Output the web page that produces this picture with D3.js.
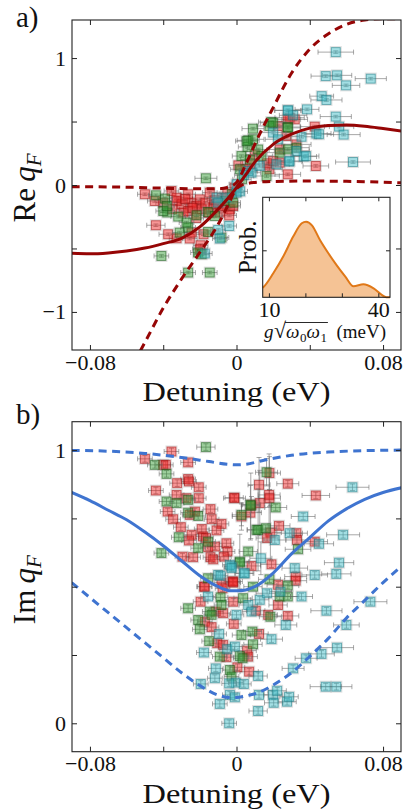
<!DOCTYPE html>
<html><head><meta charset="utf-8">
<script src="https://cdn.jsdelivr.net/npm/d3@7"></script>
<style>
body{margin:0;background:#fff}
svg{display:block}
text{font-family:"Liberation Serif","Times New Roman",serif;fill:#111}
</style></head>
<body><svg id="c" width="404" height="811"></svg>
<script>
// ---------- DATA ----------
const xTicks = [-0.08, -0.04, 0, 0.04, 0.08];
const xTickLabels = ["\u22120.08", "", "0", "", "0.08"];
const reTicks = [-1, -0.5, 0, 0.5, 1];
const reTickLabels = ["\u22121", "", "0", "", "1"];
const imTicks = [0, 0.25, 0.5, 0.75, 1];
const imTickLabels = ["0", "", "", "", "1"];
const insetXTicks = [10, 20, 30, 40];
const insetXTickLabels = ["10", "", "", "40"];
const insetYTicks = [0.47];

// panel a scatter: [detuning, Re q, xerr, yerr]
const reRed = [
[-0.050,-0.073,0.004,0.01],[-0.0355,-0.047,0.004,0.01],[-0.0264,-0.073,0.004,0.01],[-0.0446,-0.126,0.004,0.01],
[-0.040,-0.139,0.004,0.01],[-0.0327,-0.126,0.004,0.01],[-0.030,-0.152,0.004,0.01],[-0.0245,-0.139,0.004,0.01],
[-0.0218,-0.165,0.004,0.01],[-0.020,-0.113,0.004,0.01],[-0.0146,-0.06,0.004,0.01],[-0.029,-0.217,0.004,0.01],
[-0.0264,-0.205,0.004,0.01],[-0.019,-0.191,0.004,0.01],[-0.0127,-0.178,0.004,0.01],[-0.0091,-0.217,0.004,0.01],
[-0.0073,-0.165,0.004,0.01],[-0.0036,-0.191,0.004,0.01],[-0.0018,-0.165,0.004,0.01],[-0.044,-0.317,0.005,0.01],
[-0.0373,-0.388,0.005,0.01],[-0.0327,-0.42,0.004,0.01],[-0.0255,-0.422,0.004,0.01],[-0.0245,-0.375,0.004,0.01],
[-0.018,-0.388,0.004,0.01],[-0.0196,-0.475,0.004,0.01],[-0.020,-0.506,0.004,0.01],[-0.001,-0.02,0.004,0.01],
[-0.0327,-0.10,0.004,0.01],[-0.028,-0.11,0.004,0.01],[-0.017,-0.14,0.004,0.01],[-0.012,-0.12,0.004,0.01],
[-0.008,-0.10,0.004,0.01],[-0.015,-0.22,0.004,0.01],[-0.022,-0.26,0.004,0.01],[-0.035,-0.19,0.004,0.01],
[-0.005,-0.07,0.004,0.01],[-0.011,-0.15,0.004,0.01],[-0.024,-0.18,0.004,0.01],[-0.004,-0.24,0.004,0.01],
[0.005,0.124,0.005,0.01],[0.010,0.24,0.005,0.01],[0.029,0.53,0.008,0.01],[0.0427,0.46,0.008,0.01],
[0.0227,0.465,0.007,0.01],[0.0327,0.32,0.008,0.01],[0.0433,0.15,0.007,0.01],[0.028,0.084,0.007,0.01],
[0.018,0.124,0.007,0.01],[0.0236,0.28,0.007,0.01],[0.001,0.155,0.005,0.01],[0.0073,0.163,0.005,0.01],
[0.0167,0.171,0.006,0.01],[0.020,0.19,0.006,0.01],[0.0273,0.386,0.007,0.01],[0.0318,0.517,0.007,0.01],
[0.028,0.517,0.007,0.01],[0.0236,0.176,0.007,0.01]
];
const reGreen = [
[-0.0167,0.053,0.006,0.01],[-0.044,-0.081,0.004,0.01],[-0.039,-0.107,0.004,0.01],[-0.0378,-0.217,0.004,0.01],
[-0.0318,-0.249,0.004,0.01],[-0.0218,-0.239,0.004,0.01],[-0.0155,-0.213,0.004,0.01],[-0.0064,-0.126,0.004,0.01],
[-0.0018,-0.139,0.004,0.01],[-0.0118,-0.244,0.004,0.01],[-0.031,-0.375,0.004,0.01],[-0.0264,-0.335,0.004,0.01],
[-0.0273,-0.296,0.004,0.01],[-0.0155,-0.37,0.004,0.01],[-0.0082,-0.414,0.004,0.01],[-0.041,-0.559,0.004,0.01],
[-0.021,-0.532,0.004,0.01],[-0.019,-0.546,0.004,0.01],[-0.0264,-0.69,0.004,0.01],[-0.0146,-0.69,0.004,0.01],
[-0.040,-0.205,0.004,0.01],[-0.038,-0.165,0.004,0.01],[0.003,0.045,0.005,0.01],[-0.0025,-0.073,0.005,0.01],
[0.0073,0.2,0.005,0.01],[0.006,0.30,0.005,0.01],[0.009,0.444,0.006,0.01],[0.019,0.496,0.007,0.01],
[0.028,0.457,0.007,0.01],[0.018,0.465,0.007,0.01],[0.0064,0.352,0.006,0.01],[0.009,0.36,0.006,0.01],
[0.0327,0.294,0.007,0.01],[0.0118,0.28,0.006,0.01],[0.0027,0.228,0.005,0.01],[0.0164,0.071,0.007,0.01],
[0.0018,0.124,0.005,0.01],[0.0236,0.255,0.007,0.01],[0.028,0.28,0.007,0.01],[0.0136,0.228,0.006,0.01],
[0.0055,0.346,0.006,0.01],[0.020,0.49,0.007,0.01],[0.028,0.45,0.007,0.01]
];
const reCyan = [
[0.0542,1.047,0.0097,0.01],[0.0487,0.858,0.008,0.01],[0.0549,0.864,0.008,0.01],[0.0733,0.838,0.0085,0.01],
[0.0598,0.785,0.0075,0.01],[0.0465,0.70,0.0065,0.01],[0.0491,0.67,0.0085,0.01],[0.0385,0.596,0.0065,0.01],
[0.0282,0.588,0.0075,0.01],[0.0309,0.549,0.0075,0.01],[0.0542,0.539,0.0085,0.01],[0.056,0.46,0.008,0.01],
[0.0585,0.397,0.009,0.01],[0.0436,0.405,0.008,0.01],[0.045,0.40,0.008,0.01],[0.0355,0.38,0.008,0.01],
[0.020,0.413,0.007,0.01],[0.0367,0.224,0.007,0.01],[0.0287,0.184,0.007,0.01],[0.0636,0.181,0.0095,0.01],
[0.0127,0.15,0.006,0.01],[0.0064,0.11,0.005,0.01],[0.0082,0.097,0.005,0.01],[0.0327,0.268,0.007,0.01],
[0.0218,0.163,0.007,0.01],[0.0227,0.36,0.007,0.01],[0.028,0.588,0.007,0.01],[0.038,0.228,0.007,0.01],
[0.029,0.19,0.007,0.01],[-0.0109,-0.099,0.004,0.01],[-0.0055,-0.099,0.004,0.01],[0,-0.06,0.004,0.01],
[-0.01,-0.139,0.004,0.01],[-0.010,-0.354,0.004,0.01],[-0.004,-0.323,0.004,0.01],[-0.0091,-0.422,0.004,0.01],
[-0.0173,-0.54,0.004,0.01],[0,0.005,0.004,0.01],[0.002,-0.05,0.004,0.01],[0.004,0.077,0.005,0.01]
];

// panel b scatter: [detuning, Im q, xerr, yerr]
const imRed = [
[-0.0355,0.995,0.004,0.012],[-0.050,0.968,0.004,0.012],[-0.040,0.946,0.004,0.012],[-0.0386,0.946,0.004,0.012],
[-0.0264,0.955,0.004,0.012],[-0.0324,0.879,0.004,0.012],[-0.0264,0.894,0.004,0.012],[-0.0259,0.885,0.004,0.012],
[-0.0206,0.864,0.004,0.012],[-0.044,0.852,0.004,0.012],[-0.0327,0.836,0.004,0.012],[-0.0273,0.824,0.004,0.012],
[-0.0206,0.824,0.004,0.012],[-0.0376,0.775,0.004,0.012],[-0.0346,0.747,0.004,0.012],[-0.0255,0.763,0.004,0.012],
[-0.0227,0.775,0.004,0.012],[-0.0142,0.784,0.004,0.012],[-0.0136,0.747,0.004,0.012],[-0.0082,0.73,0.004,0.012],
[-0.0304,0.718,0.004,0.012],[-0.0245,0.69,0.004,0.012],[-0.019,0.711,0.004,0.012],[-0.0182,0.684,0.004,0.012],
[-0.0167,0.678,0.004,0.012],[-0.0109,0.706,0.004,0.012],[-0.0259,0.669,0.004,0.012],[-0.0155,0.645,0.004,0.012],
[-0.0118,0.647,0.004,0.012],[-0.0055,0.659,0.004,0.012],[-0.0049,0.629,0.004,0.012],[-0.0295,0.61,0.004,0.012],
[-0.0237,0.608,0.004,0.012],[-0.0142,0.608,0.004,0.012],[-0.0127,0.60,0.004,0.012],[-0.0069,0.61,0.004,0.012],
[-0.0022,0.519,0.004,0.012],[-0.0177,0.50,0.004,0.012],[0.0082,0.80,0.005,0.03],[-0.0013,0.826,0.005,0.012],
[0.0027,0.757,0.005,0.05],[0.018,0.916,0.006,0.06],[0.028,0.877,0.006,0.012],[0.0123,0.873,0.006,0.1],
[0.0433,0.834,0.0075,0.012],[0.0178,0.836,0.006,0.15],[0.018,0.824,0.006,0.03],[0.0127,0.806,0.006,0.12],
[-0.0011,0.824,0.006,0.012],[0.0076,0.771,0.006,0.1],[0.0232,0.723,0.006,0.012],[0.0185,0.698,0.006,0.1],
[0.0167,0.678,0.006,0.012],[0.0327,0.696,0.006,0.012],[0.033,0.671,0.006,0.012],[0.0427,0.665,0.007,0.012],
[0.0082,0.576,0.005,0.012],[0.0191,0.582,0.006,0.012],[0.0323,0.537,0.006,0.012],[-0.0018,0.519,0.005,0.012],
[0.0227,0.507,0.006,0.012],[-0.0173,0.50,0.004,0.012],[-0.0082,0.515,0.004,0.012],[-0.0018,0.515,0.004,0.012],
[-0.0076,0.494,0.004,0.012],[-0.0196,0.445,0.004,0.012],[-0.0018,0.445,0.004,0.012],[0.0105,0.412,0.005,0.012],
[0.0173,0.397,0.005,0.012],[0.0227,0.433,0.005,0.012],[0.0323,0.522,0.006,0.012],[0.028,0.393,0.006,0.012],
[-0.0113,0.409,0.004,0.012],[-0.0073,0.403,0.004,0.012],[-0.0173,0.372,0.004,0.012],[-0.0136,0.352,0.004,0.012],
[-0.0015,0.364,0.004,0.012],[0.0123,0.327,0.005,0.012],[-0.0105,0.293,0.004,0.012],[-0.0073,0.287,0.004,0.012],
[0.0058,0.266,0.005,0.012],[-0.0055,0.242,0.004,0.012],[0.0064,0.244,0.005,0.012],[0.0005,0.205,0.004,0.012],
[0.0069,0.189,0.005,0.012]
];
const imGreen = [
[-0.0167,1.011,0.005,0.012],[-0.0446,0.946,0.004,0.012],[-0.0382,0.913,0.004,0.012],[-0.0382,0.812,0.004,0.012],
[-0.0327,0.806,0.004,0.012],[-0.0264,0.818,0.004,0.012],[-0.0264,0.771,0.004,0.012],[-0.0209,0.759,0.004,0.012],
[-0.0315,0.681,0.004,0.012],[-0.0209,0.641,0.004,0.012],[-0.041,0.623,0.004,0.012],[-0.0155,0.665,0.004,0.012],
[0.0018,0.592,0.005,0.1],[0.0064,0.629,0.005,0.012],[-0.0155,0.531,0.004,0.012],[0.0078,0.796,0.005,0.12],
[0.0109,0.708,0.005,0.012],[0.0164,0.919,0.006,0.05],[0.0076,0.80,0.005,0.012],[0.0214,0.79,0.006,0.012],
[0.0027,0.763,0.005,0.04],[0.0118,0.708,0.006,0.15],[0.016,0.714,0.006,0.012],[0.0336,0.637,0.007,0.012],
[0.0018,0.588,0.005,0.012],[0.018,0.527,0.006,0.012],[0.028,0.504,0.006,0.012],[0.009,0.50,0.005,0.012],
[0.0036,0.458,0.005,0.012],[-0.0087,0.461,0.004,0.012],[-0.0082,0.433,0.004,0.012],[0.0185,0.39,0.006,0.012],
[0.0236,0.464,0.006,0.012],[0.028,0.464,0.006,0.012],[-0.0264,0.421,0.004,0.012],[-0.0146,0.409,0.004,0.012],
[-0.0136,0.397,0.004,0.012],[-0.0209,0.378,0.004,0.012],[-0.020,0.344,0.004,0.012],[0.0027,0.323,0.005,0.012],
[0.0087,0.336,0.005,0.012],[-0.0149,0.301,0.004,0.012],[0.009,0.289,0.005,0.012],[-0.0091,0.244,0.004,0.012],
[0.0018,0.246,0.005,0.012],[0.0033,0.238,0.005,0.012],[-0.0036,0.195,0.004,0.012],[-0.0027,0.171,0.004,0.012]
];
const imCyan = [
[0.0633,0.864,0.009,0.012],[0.0364,0.757,0.0065,0.012],[0.029,0.696,0.007,0.012],[0.0582,0.69,0.009,0.012],
[0.045,0.657,0.008,0.012],[0.0209,0.671,0.006,0.012],[0.0133,0.604,0.006,0.06],[-0.0027,0.574,0.004,0.012],
[0.004,0.549,0.005,0.012],[0.0318,0.568,0.007,0.012],[0.056,0.588,0.008,0.012],[0.0427,0.543,0.007,0.012],
[0.0545,0.547,0.008,0.012],[-0.0036,0.58,0.004,0.012],[-0.0027,0.568,0.004,0.012],[0.0045,0.549,0.005,0.012],
[-0.01,0.543,0.004,0.012],[-0.0087,0.54,0.004,0.012],[0.0731,0.445,0.009,0.012],[-0.0155,0.464,0.004,0.012],
[0.0064,0.433,0.005,0.012],[0.0082,0.409,0.005,0.012],[0.0127,0.452,0.005,0.012],[0.024,0.482,0.006,0.012],
[0.0167,0.476,0.006,0.012],[0.0355,0.464,0.006,0.012],[0,0.397,0.004,0.012],[-0.0095,0.327,0.004,0.012],
[0.0269,0.36,0.006,0.012],[0.0191,0.308,0.006,0.012],[-0.0178,0.259,0.004,0.012],[-0.0051,0.271,0.004,0.012],
[-0.0009,0.281,0.004,0.012],[-0.0113,0.201,0.004,0.012],[-0.0118,0.165,0.004,0.012],[0.0118,0.173,0.005,0.012],
[-0.0004,0.149,0.004,0.012],[0.004,0.144,0.004,0.012],[-0.004,0.146,0.004,0.012],[-0.0195,0.144,0.004,0.012],
[-0.0036,0.104,0.004,0.012],[-0.0009,0.095,0.004,0.012],[-0.0091,0.071,0.004,0.012],[0.0123,0.104,0.005,0.012],
[0.020,0.104,0.005,0.012],[0.0222,0.119,0.005,0.012],[0.0203,0.075,0.005,0.012],[0.0276,0.079,0.005,0.012],
[0.0287,0.097,0.005,0.012],[0.0118,0.045,0.005,0.012],[-0.004,0.0,0.004,0.012],[0.0309,0.201,0.006,0.012],
[0.038,0.238,0.006,0.012],[0.0491,0.412,0.0085,0.012],[0.060,0.36,0.007,0.012],[0.0549,0.277,0.009,0.012],
[0.0464,0.254,0.007,0.012],[0.0487,0.134,0.0085,0.012],[0.0545,0.134,0.0085,0.012]
];

// model curves : [detuning, value]
const reMean = [[-0.09,-0.538],[-0.08,-0.542],[-0.07,-0.535],[-0.06,-0.52],[-0.05,-0.497],[-0.04,-0.462],
[-0.03,-0.42],[-0.02,-0.33],[-0.01,-0.19],[-0.005,-0.11],[0,-0.02],[0.005,0.08],[0.01,0.18],[0.02,0.32],
[0.03,0.40],[0.04,0.448],[0.05,0.468],[0.06,0.472],[0.07,0.463],[0.08,0.445],[0.09,0.425]];
const reUpper = [[-0.09,-0.013],[-0.06,-0.017],[-0.04,-0.025],[-0.02,-0.03],[-0.01,-0.03],[-0.005,-0.02],
[0,0.02],[0.005,0.16],[0.01,0.32],[0.015,0.47],[0.02,0.61],[0.03,0.88],[0.04,1.07],[0.05,1.19],[0.06,1.265],
[0.07,1.30],[0.08,1.31],[0.09,1.31]];
const reLower = [[-0.056,-1.40],[-0.05,-1.24],[-0.04,-0.97],[-0.03,-0.74],[-0.02,-0.53],[-0.01,-0.31],
[-0.005,-0.17],[0,-0.03],[0.003,0.0],[0.006,0.012],[0.01,0.02],[0.02,0.028],[0.04,0.031],[0.06,0.029],
[0.08,0.022],[0.09,0.017]];
const imMean = [[-0.09,0.845],[-0.08,0.815],[-0.07,0.78],[-0.06,0.745],[-0.05,0.70],[-0.04,0.65],[-0.03,0.595],
[-0.02,0.54],[-0.01,0.50],[-0.003,0.485],[0,0.485],[0.005,0.488],[0.01,0.50],[0.02,0.55],[0.03,0.62],
[0.04,0.68],[0.05,0.74],[0.06,0.785],[0.07,0.82],[0.08,0.845],[0.09,0.862]];
const imUpper = [[-0.09,0.999],[-0.07,0.996],[-0.05,0.988],[-0.03,0.973],[-0.015,0.958],[-0.005,0.948],[0,0.946],
[0.005,0.948],[0.015,0.963],[0.03,0.981],[0.05,0.993],[0.07,0.998],[0.09,1.0]];
const imLower = [[-0.09,0.515],[-0.08,0.46],[-0.07,0.405],[-0.06,0.35],[-0.05,0.295],[-0.04,0.24],[-0.03,0.185],
[-0.02,0.138],[-0.01,0.103],[-0.003,0.094],[0,0.094],[0.005,0.10],[0.01,0.108],[0.02,0.14],[0.03,0.185],
[0.04,0.245],[0.05,0.31],[0.06,0.385],[0.07,0.45],[0.08,0.515],[0.09,0.575]];

// inset: distribution of coupling g*sqrt(w0 w1) (meV) vs probability (arb.)
const couplingMeV = [8.3,8.46,11.2,13.96,16.7,19.0,20.2,21.8,24.04,26.3,28.6,30.9,33.2,35.9,38.7,41.4,42.2,43.2];
const probDensity = [0.095,0.10,0.24,0.41,0.61,0.74,0.756,0.72,0.57,0.44,0.32,0.21,0.11,0.13,0.09,0.013,0.0,0.0];

// ---------- DRAW ----------
const svg = d3.select("#c");
const FONT = '"Liberation Serif","Times New Roman",serif';
const xDom = [-0.0898, 0.0898];
const colors = {
  red:   {fill:"#ee2020", edge:"#9a1010"},
  green: {fill:"#2e9a2e", edge:"#1b5a1b"},
  cyan:  {fill:"#3cbcc6", edge:"#1d7a84"}
};

function axes(g, x, y, xt, xl, yt, yl, tick, fs, padX, padY) {
  const [x0, x1] = x.range(), [yb, yt0] = y.range();
  const style = s => {
    s.select(".domain").remove();
    s.attr("font-family", FONT).attr("font-size", fs);
    s.selectAll(".tick line").attr("stroke", "#222").attr("stroke-width", 1);
    s.selectAll(".tick text").attr("fill", "#111");
  };
  g.append("g").attr("transform", `translate(0,${yb})`)
    .call(d3.axisBottom(x).tickValues(xt).tickSize(-tick).tickPadding(padX).tickFormat((d, i) => xl[i])).call(style);
  g.append("g").attr("transform", `translate(0,${yt0})`)
    .call(d3.axisTop(x).tickValues(xt).tickSize(-tick).tickFormat("")).call(style);
  g.append("g").attr("transform", `translate(${x0},0)`)
    .call(d3.axisLeft(y).tickValues(yt).tickSize(-tick).tickPadding(padY).tickFormat((d, i) => yl ? yl[i] : "")).call(style);
  g.append("g").attr("transform", `translate(${x1},0)`)
    .call(d3.axisRight(y).tickValues(yt).tickSize(-tick).tickFormat("")).call(style);
  g.append("rect").attr("x", x0).attr("y", yt0).attr("width", x1 - x0).attr("height", yb - yt0)
    .attr("fill", "none").attr("stroke", "#222").attr("stroke-width", 1.1);
}

function scatter(g, x, y, data, col) {
  const cap = 2.5, s = 9;
  const eg = g.append("g").attr("stroke", "#6e6e6e").attr("stroke-opacity", 0.6).attr("stroke-width", 1);
  data.forEach(d => {
    const cx = x(d[0]), cy = y(d[1]);
    const xa = x(d[0] - d[2]), xb = x(d[0] + d[2]);
    const ya = y(d[1] - d[3]), yb = y(d[1] + d[3]);
    eg.append("line").attr("x1", xa).attr("x2", xb).attr("y1", cy).attr("y2", cy);
    eg.append("line").attr("x1", xa).attr("x2", xa).attr("y1", cy - cap).attr("y2", cy + cap);
    eg.append("line").attr("x1", xb).attr("x2", xb).attr("y1", cy - cap).attr("y2", cy + cap);
    eg.append("line").attr("x1", cx).attr("x2", cx).attr("y1", ya).attr("y2", yb);
    eg.append("line").attr("x1", cx - cap).attr("x2", cx + cap).attr("y1", ya).attr("y2", ya);
    eg.append("line").attr("x1", cx - cap).attr("x2", cx + cap).attr("y1", yb).attr("y2", yb);
  });
  g.append("g").selectAll("rect.halo").data(data).join("rect")
    .attr("x", d => x(d[0]) - s / 2 - 1).attr("y", d => y(d[1]) - s / 2 - 1)
    .attr("width", s + 2).attr("height", s + 2)
    .attr("fill", "none").attr("stroke", "#888").attr("stroke-opacity", 0.25).attr("stroke-width", 1);
  g.append("g").selectAll("rect").data(data).join("rect")
    .attr("x", d => x(d[0]) - s / 2).attr("y", d => y(d[1]) - s / 2)
    .attr("width", s).attr("height", s)
    .attr("fill", col.fill).attr("fill-opacity", 0.47)
    .attr("stroke", col.edge).attr("stroke-opacity", 0.6).attr("stroke-width", 1);
}

function curve(g, x, y, data, color, dashed) {
  const line = d3.line().x(d => x(d[0])).y(d => y(d[1])).curve(d3.curveMonotoneX);
  g.append("path").attr("d", line(data)).attr("fill", "none").attr("stroke", color)
    .attr("stroke-width", 3).attr("stroke-dasharray", dashed ? "8,5.5" : null)
    .attr("stroke-linecap", "butt");
}

function panel(id, box, yDom, sets, curves, yt, yl, labels) {
  const x = d3.scaleLinear().domain(xDom).range([box.l, box.r]);
  const y = d3.scaleLinear().domain(yDom).range([box.b, box.t]);
  const g = svg.append("g");
  g.append("clipPath").attr("id", id).append("rect")
    .attr("x", box.l).attr("y", box.t).attr("width", box.r - box.l).attr("height", box.b - box.t);
  const pg = g.append("g").attr("clip-path", `url(#${id})`);
  sets.forEach(([data, col]) => scatter(pg, x, y, data, col));
  curves.forEach(([data, color, dashed]) => curve(pg, x, y, data, color, dashed));
  axes(g, x, y, xTicks, xTickLabels, yt, yl, 5, 22, 4, 6);
  // labels
  g.append("text").attr("x", 16).attr("y", labels.panelY).attr("font-size", 29).text(labels.panel);
  g.append("text").attr("x", (box.l + box.r) / 2).attr("y", box.b + 51).attr("text-anchor", "middle")
    .attr("font-size", 28).attr("textLength", 188).attr("lengthAdjust", "spacingAndGlyphs").text("Detuning (eV)");
  const yl2 = g.append("text").attr("transform", `translate(35,${(box.t + box.b) / 2 + 3}) rotate(-90)`)
    .attr("text-anchor", "middle").attr("font-size", 31);
  yl2.append("tspan").text(labels.ypre + "\u2009");
  yl2.append("tspan").attr("font-style", "italic").text("q");
  yl2.append("tspan").attr("font-style", "italic").attr("font-size", 21).attr("dy", 6).text("F");
  return {x, y, g};
}

const A = {l: 72, r: 401, t: 20, b: 350};
const B = {l: 72, r: 401, t: 421.7, b: 751.7};
const darkRed = "#960505", blue = "#3f74d0";

panel("clipA", A, [-1.3, 1.3],
  [[reRed, colors.red], [reGreen, colors.green], [reCyan, colors.cyan]],
  [[reUpper, darkRed, true], [reLower, darkRed, true], [reMean, darkRed, false]],
  reTicks, reTickLabels, {panel: "a)", panelY: 27, ypre: "Re"});

panel("clipB", B, [-0.104, 1.104],
  [[imRed, colors.red], [imGreen, colors.green], [imCyan, colors.cyan]],
  [[imUpper, blue, true], [imLower, blue, true], [imMean, blue, false]],
  imTicks, imTickLabels, {panel: "b)", panelY: 424, ypre: "Im"});

// ---------- INSET ----------
const I = {l: 262.7, r: 390, t: 197.3, b: 297.3};
const ix = d3.scaleLinear().domain([8.3, 43.2]).range([I.l, I.r]);
const iy = d3.scaleLinear().domain([0, 1]).range([I.b, I.t]);
const ig = svg.append("g");
ig.append("rect").attr("x", I.l).attr("y", I.t).attr("width", I.r - I.l).attr("height", I.b - I.t).attr("fill", "#fff");
const dens = couplingMeV.map((c, i) => [c, probDensity[i]]);
ig.append("path").attr("d", d3.area().x(d => ix(d[0])).y0(iy(0)).y1(d => iy(d[1])).curve(d3.curveMonotoneX)(dens))
  .attr("fill", "#f5c395").attr("stroke", "none");
ig.append("path").attr("d", d3.line().x(d => ix(d[0])).y(d => iy(d[1])).curve(d3.curveMonotoneX)(dens))
  .attr("fill", "none").attr("stroke", "#e07818").attr("stroke-width", 2);
axes(ig, ix, iy, insetXTicks, insetXTickLabels, insetYTicks, null, 4, 22, 4, 4);
ig.append("text").attr("transform", `translate(256,${(I.t + I.b) / 2}) rotate(-90)`).attr("text-anchor", "middle")
  .attr("font-size", 25).text("Prob.");
// inset x label: g sqrt(w0 w1) (meV)
(function () {
  const base = 338, fs = 19, sub = 13;
  const pieces = [
    {t: "g", it: true}, {t: "\u221A", rad: true}, {t: "\u03C9", it: true, over: true},
    {t: "0", s: true, over: true}, {t: "\u03C9", it: true, over: true}, {t: "1", s: true, over: true},
    {t: "\u2002(meV)"}
  ];
  const lg = ig.append("g");
  let cx = 0, overEnd = 0, radEnd = 0;
  pieces.forEach(p => {
    const t = lg.append("text").attr("x", cx).attr("y", base + (p.s ? 4 : 0))
      .attr("font-size", p.s ? sub : (p.rad ? fs + 3 : fs)).attr("font-style", p.it ? "italic" : null).text(p.t);
    const w = t.node().getComputedTextLength();
    if (p.rad) radEnd = cx + w;
    cx += w + (p.it ? 0.5 : 0);
    if (p.over) overEnd = cx;
  });
  lg.append("line").attr("x1", radEnd - 1).attr("x2", overEnd + 1).attr("y1", base - 15.5).attr("y2", base - 15.5)
    .attr("stroke", "#111").attr("stroke-width", 0.9);
  const centre = 325;
  lg.attr("transform", `translate(${centre - cx / 2},0)`);
})();
</script></body></html>
